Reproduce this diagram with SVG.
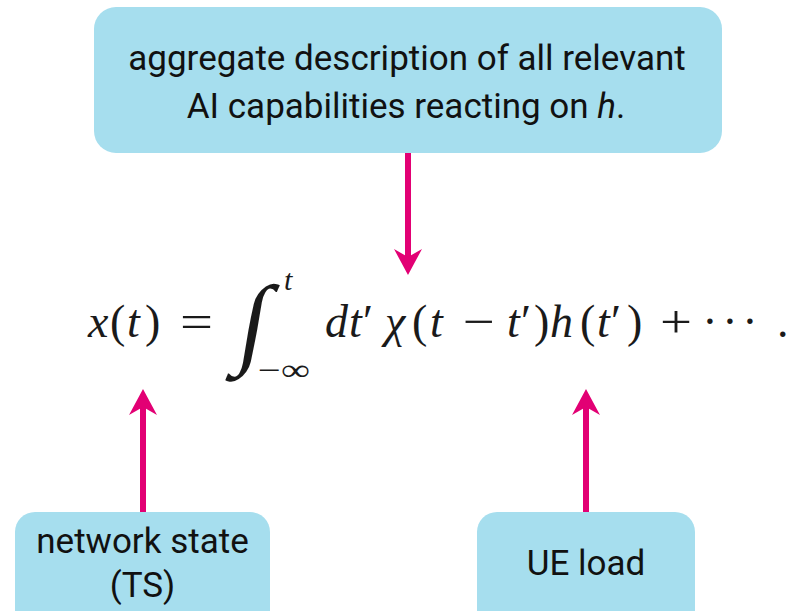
<svg xmlns="http://www.w3.org/2000/svg" width="793" height="611" viewBox="0 0 793 611">
<style>
.box{fill:#a6deee;}
.lbl{font-family:Roboto,"Noto Sans",sans-serif;font-size:35px;fill:#111;}
.m{font-family:"Liberation Serif","Times New Roman",serif;font-size:46px;fill:#1a1a1a;}
.i{font-style:italic;}
.s{font-size:30px;}
.conn{stroke:#e20074;stroke-width:6;fill:none;}
</style>
<defs>
<marker id="ah" viewBox="0 0 26 28" refX="10" refY="14" markerWidth="26" markerHeight="28" markerUnits="userSpaceOnUse" orient="auto">
<path d="M0,0 L26,14 L0,28 L8,14 Z" fill="#e20074"/>
</marker>
</defs>
<rect width="793" height="611" fill="#fff"/>
<g id="node-ai">
<rect class="box" x="94" y="7" width="628" height="146" rx="22"/>
<text class="lbl" x="407" y="70" text-anchor="middle">aggregate description of all relevant</text>
<text class="lbl" x="406" y="118" text-anchor="middle">AI capabilities reacting on <tspan font-style="italic">h</tspan>.</text>
</g>
<g id="node-ts">
<rect class="box" x="15" y="512" width="255" height="120" rx="20"/>
<text class="lbl" x="142.5" y="553" text-anchor="middle">network state</text>
<text class="lbl" x="142.5" y="597" text-anchor="middle">(TS)</text>
</g>
<g id="node-ue">
<rect class="box" x="477" y="512" width="218" height="120" rx="20"/>
<text class="lbl" x="586" y="575" text-anchor="middle">UE load</text>
</g>
<g id="formula">
<text class="m i" x="88" y="337">x</text>
<text class="m" x="110" y="337">(</text>
<text class="m i" x="127" y="337">t</text>
<text class="m" x="145" y="337">)</text>
<text class="m" x="180" y="337" textLength="33" lengthAdjust="spacingAndGlyphs">=</text>
<text font-family="'Liberation Serif',serif" font-size="100" fill="#1a1a1a" x="0" y="0" transform="translate(235,355) skewX(-10)">∫</text>
<text class="m i s" x="284" y="290">t</text>
<text class="m s" x="258" y="380" textLength="52" lengthAdjust="spacingAndGlyphs">−∞</text>
<text class="m i" x="325" y="337">d</text>
<text class="m i" x="349" y="337">t</text>
<text class="m" x="363" y="337">′</text>
<text class="m i" x="385" y="337">χ</text>
<text class="m" x="412" y="337">(</text>
<text class="m i" x="430" y="337">t</text>
<text class="m" x="463" y="337" textLength="32" lengthAdjust="spacingAndGlyphs">−</text>
<text class="m i" x="507" y="337">t</text>
<text class="m" x="521" y="337">′</text>
<text class="m" x="534" y="337">)</text>
<text class="m i" x="550" y="337">h</text>
<text class="m" x="580" y="337">(</text>
<text class="m i" x="597" y="337">t</text>
<text class="m" x="611" y="337">′</text>
<text class="m" x="627" y="337">)</text>
<text class="m" x="660" y="337" textLength="32" lengthAdjust="spacingAndGlyphs">+</text>
<text class="m" x="710" y="337" text-anchor="middle">·</text>
<text class="m" x="730" y="337" text-anchor="middle">·</text>
<text class="m" x="750" y="337" text-anchor="middle">·</text>
<text class="m" x="777" y="337">.</text>
</g>
<g id="connectors">
<line class="conn" x1="408" y1="153" x2="408" y2="259" marker-end="url(#ah)"/>
<line class="conn" x1="143" y1="512" x2="143" y2="405" marker-end="url(#ah)"/>
<line class="conn" x1="586" y1="512" x2="586" y2="405" marker-end="url(#ah)"/>
</g>
</svg>
